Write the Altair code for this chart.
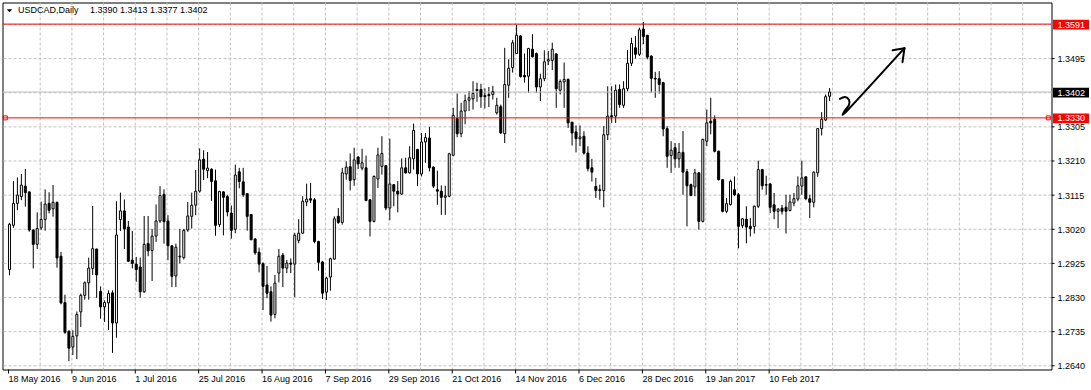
import altair as alt
import pandas as pd

# ---------------- data ----------------
opens = [1.2908,1.3031,1.3092,1.3111,1.3140,1.3124,1.3018,1.2978,1.3024,1.3047,
         1.3092,1.3077,1.3095,1.2945,1.2816,1.2736,1.2692,1.2723,1.2790,1.2836,
         1.2871,1.2911,1.2965,1.2847,1.2804,1.2815,1.2843,1.2759,1.3047,1.3071,
         1.3026,1.2934,1.2923,1.2915,1.2846,1.2980,1.2961,1.3001,1.3043,1.3117,
         1.3043,1.2974,1.2890,1.2943,1.2941,1.3018,1.3056,1.3087,1.3126,1.3215,
         1.3183,1.3187,1.3155,1.3033,1.3124,1.3111,1.3065,1.3020,1.3180,1.3152,
         1.3119,1.3061,1.2993,1.2956,1.2924,1.2865,1.2846,1.2783,1.2898,1.2948,
         1.2912,1.2926,1.2923,1.2989,1.3009,1.3096,1.3105,1.3102,1.2986,1.2929,
         1.2845,1.2887,1.2937,1.3056,1.3039,1.3174,1.3194,1.3158,1.3221,1.3190,
         1.3191,1.3102,1.3042,1.3160,1.3195,1.3197,1.3079,1.3144,1.3126,1.3118,
         1.3191,1.3177,1.3216,1.3242,1.3174,1.3263,1.3274,1.3193,1.3130,1.3126,
         1.3109,1.3112,1.3226,1.3328,1.3286,1.3349,1.3379,1.3383,1.3406,1.3409,
         1.3392,1.3395,1.3395,1.3344,1.3361,1.3286,1.3421,1.3470,1.3509,1.3558,
         1.3448,1.3446,1.3521,1.3509,1.3416,1.3439,1.3488,1.3490,1.3508,1.3407,
         1.3430,1.3437,1.3318,1.3291,1.3272,1.3279,1.3232,1.3191,1.3139,1.3130,
         1.3128,1.3283,1.3336,1.3335,1.3409,1.3365,1.3411,1.3482,1.3525,1.3507,
         1.3577,1.3560,1.3502,1.3440,1.3439,1.3428,1.3300,1.3225,1.3247,1.3216,
         1.3234,1.3180,1.3144,1.3138,1.3177,1.3042,1.3265,1.3321,1.3326,1.3237,
         1.3158,1.3070,1.3089,1.3130,1.3116,1.3030,1.3048,1.3028,1.3028,1.3084,
         1.3186,1.3144,1.3146,1.3088,1.3070,1.3079,1.3081,1.3072,1.3093,1.3104,
         1.3140,1.3166,1.3105,1.3095,1.3177,1.3300,1.3324,1.3390]
highs = [1.3038,1.3154,1.3164,1.3174,1.3188,1.3125,1.3019,1.3067,1.3097,1.3131,
         1.3123,1.3143,1.3097,1.2957,1.2838,1.2739,1.2739,1.2791,1.2841,1.2875,
         1.2941,1.3085,1.2966,1.2861,1.2822,1.2850,1.2850,1.3098,1.3122,1.3103,
         1.3043,1.3015,1.2943,1.2941,1.3057,1.3057,1.3021,1.3089,1.3140,1.3131,
         1.3059,1.2975,1.2980,1.3021,1.3021,1.3096,1.3122,1.3185,1.3245,1.3240,
         1.3235,1.3190,1.3186,1.3127,1.3126,1.3116,1.3086,1.3200,1.3191,1.3191,
         1.3121,1.3061,1.2995,1.2969,1.2928,1.2918,1.2861,1.2893,1.2965,1.2954,
         1.2935,1.2939,1.3010,1.3048,1.3112,1.3147,1.3149,1.3107,1.2988,1.2932,
         1.2888,1.2941,1.3056,1.3079,1.3191,1.3209,1.3231,1.3247,1.3223,1.3244,
         1.3225,1.3104,1.3170,1.3247,1.3279,1.3199,1.3272,1.3146,1.3154,1.3217,
         1.3219,1.3251,1.3314,1.3244,1.3288,1.3288,1.3305,1.3195,1.3183,1.3142,
         1.3141,1.3233,1.3358,1.3398,1.3372,1.3395,1.3405,1.3432,1.3428,1.3425,
         1.3412,1.3416,1.3419,1.3386,1.3367,1.3525,1.3493,1.3547,1.3589,1.3560,
         1.3509,1.3525,1.3563,1.3512,1.3453,1.3518,1.3516,1.3539,1.3509,1.3437,
         1.3484,1.3440,1.3318,1.3309,1.3309,1.3293,1.3251,1.3216,1.3163,1.3144,
         1.3307,1.3418,1.3418,1.3423,1.3423,1.3432,1.3519,1.3553,1.3558,1.3581,
         1.3597,1.3560,1.3504,1.3458,1.3460,1.3430,1.3307,1.3265,1.3260,1.3260,
         1.3293,1.3188,1.3147,1.3188,1.3179,1.3272,1.3353,1.3386,1.3337,1.3239,
         1.3160,1.3107,1.3158,1.3167,1.3121,1.3051,1.3084,1.3051,1.3086,1.3211,
         1.3188,1.3169,1.3149,1.3121,1.3079,1.3088,1.3116,1.3116,1.3121,1.3167,
         1.3211,1.3167,1.3116,1.3181,1.3302,1.3346,1.3395,1.3413]
lows = [1.2892,1.3024,1.3073,1.3101,1.3083,1.3013,1.2911,1.2965,1.3018,1.3016,
        1.3064,1.3055,1.2913,1.2811,1.2729,1.2653,1.2670,1.2659,1.2748,1.2824,
        1.2824,1.2893,1.2829,1.2771,1.2762,1.2740,1.2676,1.2718,1.3015,1.2965,
        1.2929,1.2911,1.2874,1.2830,1.2843,1.2945,1.2876,1.2985,1.3038,1.2980,
        1.2934,1.2859,1.2859,1.2925,1.2936,1.3013,1.3022,1.3059,1.3122,1.3157,
        1.3162,1.3099,1.3002,1.3026,1.3003,1.3056,1.2994,1.3009,1.3134,1.3110,
        1.3016,1.2989,1.2949,1.2900,1.2795,1.2828,1.2763,1.2772,1.2872,1.2859,
        1.2898,1.2898,1.2831,1.2981,1.3008,1.3084,1.3093,1.2981,1.2905,1.2826,
        1.2823,1.2849,1.2935,1.3035,1.3033,1.3158,1.3128,1.3141,1.3188,1.3184,
        1.3098,1.3000,1.3039,1.3135,1.3172,1.3073,1.3045,1.3084,1.3067,1.3116,
        1.3175,1.3175,1.3186,1.3140,1.3167,1.3205,1.3181,1.3135,1.3088,1.3060,
        1.3060,1.3109,1.3223,1.3276,1.3276,1.3312,1.3349,1.3353,1.3375,1.3358,
        1.3356,1.3360,1.3381,1.3339,1.3286,1.3260,1.3386,1.3456,1.3508,1.3442,
        1.3428,1.3400,1.3498,1.3400,1.3377,1.3432,1.3477,1.3463,1.3358,1.3395,
        1.3358,1.3302,1.3253,1.3234,1.3251,1.3228,1.3181,1.3153,1.3107,1.3102,
        1.3081,1.3268,1.3316,1.3316,1.3358,1.3358,1.3404,1.3474,1.3495,1.3502,
        1.3535,1.3493,1.3400,1.3386,1.3398,1.3279,1.3191,1.3177,1.3191,1.3191,
        1.3116,1.3028,1.3112,1.3112,1.3019,1.3039,1.3251,1.3284,1.3234,1.3156,
        1.3067,1.3065,1.3086,1.3112,1.2967,1.3023,1.2981,1.3000,1.3008,1.3079,
        1.3130,1.3116,1.3065,1.3048,1.3023,1.3061,1.3008,1.3070,1.3084,1.3098,
        1.3116,1.3101,1.3051,1.3081,1.3166,1.3281,1.3321,1.3377]
closes = [1.3034,1.3092,1.3115,1.3143,1.3122,1.3018,1.2978,1.3022,1.3047,1.3090,
          1.3073,1.3095,1.2940,1.2815,1.2733,1.2689,1.2722,1.2783,1.2836,1.2871,
          1.2912,1.2966,1.2893,1.2804,1.2816,1.2841,1.2759,1.3004,1.3071,1.3021,
          1.2931,1.2925,1.2908,1.2846,1.2978,1.2960,1.3001,1.3043,1.3114,1.3041,
          1.2974,1.2889,1.2970,1.2945,1.3017,1.3057,1.3087,1.3126,1.3213,1.3187,
          1.3190,1.3153,1.3031,1.3125,1.3109,1.3068,1.3017,1.3171,1.3153,1.3116,
          1.3056,1.2991,1.2954,1.2923,1.2861,1.2842,1.2781,1.2870,1.2945,1.2912,
          1.2926,1.2923,1.3003,1.3009,1.3098,1.3104,1.3101,1.2986,1.2928,1.2842,
          1.2884,1.2938,1.3049,1.3039,1.3177,1.3193,1.3156,1.3213,1.3202,1.3205,
          1.3100,1.3042,1.3167,1.3227,1.3231,1.3079,1.3146,1.3126,1.3118,1.3191,
          1.3177,1.3219,1.3295,1.3174,1.3263,1.3275,1.3191,1.3140,1.3126,1.3109,
          1.3113,1.3230,1.3337,1.3286,1.3349,1.3378,1.3386,1.3398,1.3409,1.3389,
          1.3389,1.3392,1.3403,1.3365,1.3288,1.3423,1.3468,1.3539,1.3560,1.3445,
          1.3444,1.3523,1.3500,1.3416,1.3439,1.3486,1.3492,1.3521,1.3411,1.3431,
          1.3437,1.3316,1.3288,1.3272,1.3277,1.3232,1.3189,1.3179,1.3128,1.3128,
          1.3283,1.3335,1.3333,1.3407,1.3367,1.3411,1.3482,1.3537,1.3507,1.3575,
          1.3556,1.3499,1.3440,1.3438,1.3423,1.3299,1.3223,1.3240,1.3216,1.3234,
          1.3179,1.3141,1.3114,1.3177,1.3042,1.3270,1.3316,1.3316,1.3237,1.3158,
          1.3070,1.3091,1.3153,1.3116,1.3028,1.3049,1.3026,1.3022,1.3084,1.3186,
          1.3141,1.3143,1.3081,1.3070,1.3076,1.3070,1.3070,1.3096,1.3105,1.3141,
          1.3163,1.3105,1.3095,1.3179,1.3300,1.3326,1.3389,1.3402]

date_labels = ["18 May 2016", "9 Jun 2016", "1 Jul 2016", "25 Jul 2016",
               "16 Aug 2016", "7 Sep 2016", "29 Sep 2016", "21 Oct 2016",
               "14 Nov 2016", "6 Dec 2016", "28 Dec 2016", "19 Jan 2017",
               "10 Feb 2017"]
price_grid = [1.2640, 1.2735, 1.2830, 1.2925, 1.3020, 1.3115, 1.3210,
              1.3305, 1.3400, 1.3495, 1.3590]
price_labels = [1.2640, 1.2735, 1.2830, 1.2925, 1.3020, 1.3115, 1.3210,
                1.3305, 1.3495]
red_levels = [1.3591, 1.3330]
bid_level = [1.3402]
symbol = "USDCAD,Daily"
ohlc_text = "1.3390 1.3413 1.3377 1.3402"

# hand-drawn arrow (bar index, price)
arrow_x = [209.6, 210.9, 211.9, 211.9, 210.9, 211.6, 225.9]
arrow_y = [1.3383, 1.3388, 1.3380, 1.3366, 1.3351, 1.3352, 1.3524]
head_x = [225.9, 225.9]
head_y = [1.3524, 1.3524]
head_x2 = [222.9, 225.4]
head_y2 = [1.3518, 1.3485]

# ---------------- chart ----------------
FONT = "Liberation Sans"
FS = 9
GRID = "#c0c0c0"
W, H = 1049, 367

xs = alt.Scale(domain=[-0.5, 261.75], nice=False, zero=False)
ys = alt.Scale(domain=[1.26297, 1.36511], nice=False, zero=False)

df = pd.DataFrame({"i": list(range(len(opens))), "o": opens, "h": highs,
                   "l": lows, "c": closes})

# vertical grid every 8 bars, labelled ticks every 16 bars
gx_df = pd.DataFrame({"g": [8 * k - 0.25 for k in range(1, 33)]})
lab_df = pd.DataFrame({"g": [16 * k - 0.25 for k in range(len(date_labels))],
                       "t": date_labels})
gy_df = pd.DataFrame({"p": price_grid})
py_df = pd.DataFrame({"p": price_labels})

vgrid = alt.Chart(gx_df).mark_rule(color=GRID, strokeWidth=1, strokeDash=[3, 2]).encode(
    x=alt.X("g:Q", scale=xs, axis=None))
hgrid = alt.Chart(gy_df).mark_rule(color=GRID, strokeWidth=1, strokeDash=[3, 2]).encode(
    y=alt.Y("p:Q", scale=ys, axis=None))

xticks = alt.Chart(lab_df).mark_rule(color="black", strokeWidth=1).encode(
    x=alt.X("g:Q", scale=xs, axis=None), y=alt.value(H), y2=alt.value(H + 4))
xlabels = alt.Chart(lab_df).mark_text(
    align="left", baseline="top", font=FONT, fontSize=FS, color="black"
).encode(x=alt.X("g:Q", scale=xs, axis=None), y=alt.value(H + 5), text="t:N")

yticks = alt.Chart(py_df).mark_rule(color="black", strokeWidth=1).encode(
    y=alt.Y("p:Q", scale=ys, axis=None), x=alt.value(W), x2=alt.value(W + 3))
ylabels = alt.Chart(py_df).mark_text(
    align="left", baseline="middle", font=FONT, fontSize=FS, color="black", dy=0.5
).encode(y=alt.Y("p:Q", scale=ys, axis=None), x=alt.value(W + 6),
         text=alt.Text("p:Q", format=".4f"))

wicks = alt.Chart(df).mark_rule(color="black", strokeWidth=1).encode(
    x=alt.X("i:Q", scale=xs, axis=None),
    y=alt.Y("l:Q", scale=ys, axis=None),
    y2="h:Q")

bodies = alt.Chart(df).transform_calculate(
    fc="datum.c >= datum.o ? 'white' : 'black'"
).mark_bar(width=2, stroke="black", strokeWidth=1).encode(
    x=alt.X("i:Q", scale=xs, axis=None),
    y=alt.Y("o:Q", scale=ys, axis=None),
    y2="c:Q",
    fill=alt.Fill("fc:N", scale=None))

bid_df = pd.DataFrame({"v": bid_level})
bid = alt.Chart(bid_df).mark_rule(color=GRID, strokeWidth=1).encode(
    y=alt.Y("v:Q", scale=ys, axis=None))

red_df = pd.DataFrame({"v": red_levels})
red_lines = alt.Chart(red_df).mark_rule(color="#ff0000", strokeWidth=1).encode(
    y=alt.Y("v:Q", scale=ys, axis=None))

sq_df = pd.DataFrame({"v": [red_levels[1]]})
sq_left = alt.Chart(sq_df).mark_point(
    shape="square", filled=False, color="#ff0000", size=16, strokeWidth=1, opacity=1
).encode(x=alt.value(2.8), y=alt.Y("v:Q", scale=ys, axis=None))
sq_right = alt.Chart(sq_df).mark_point(
    shape="square", filled=False, color="#ff0000", size=16, strokeWidth=1, opacity=1
).encode(x=alt.value(1045.8), y=alt.Y("v:Q", scale=ys, axis=None))


def box(values, colour):
    d = pd.DataFrame({"v": values})
    base = alt.Chart(d).transform_calculate(
        top="datum.v + 0.0012", bot="datum.v - 0.0015")
    r = base.mark_rect(color=colour).encode(
        x=alt.value(W + 1.5), x2=alt.value(W + 37.5),
        y=alt.Y("top:Q", scale=ys, axis=None), y2="bot:Q")
    t = base.mark_text(color="white", align="left", baseline="middle",
                       font=FONT, fontSize=FS, dy=0.5).encode(
        x=alt.value(W + 6), y=alt.Y("v:Q", scale=ys, axis=None),
        text=alt.Text("v:Q", format=".4f"))
    return r + t


red_boxes = box(red_levels, "#ff0000")
black_box = box(bid_level, "black")

hdr_df = pd.DataFrame({"s": [symbol], "n": [ohlc_text]})
tri = alt.Chart(hdr_df).mark_point(
    shape="M-1,-0.55L1,-0.55L0,0.55Z", filled=True, color="black", size=30, opacity=1
).encode(x=alt.value(7), y=alt.value(8.3))
hdr1 = alt.Chart(hdr_df).mark_text(
    align="left", baseline="alphabetic", font=FONT, fontSize=FS, color="black"
).encode(x=alt.value(15.5), y=alt.value(10), text="s:N")
hdr2 = alt.Chart(hdr_df).mark_text(
    align="left", baseline="alphabetic", font=FONT, fontSize=FS, color="black"
).encode(x=alt.value(87.5), y=alt.value(10), text="n:N")

arr_df = pd.DataFrame({"ax": arrow_x, "ay": arrow_y,
                       "k": list(range(len(arrow_x)))})
arrow = alt.Chart(arr_df).mark_line(
    color="black", strokeWidth=2, interpolate="cardinal", strokeCap="round",
    strokeJoin="round"
).encode(x=alt.X("ax:Q", scale=xs, axis=None),
         y=alt.Y("ay:Q", scale=ys, axis=None), order="k:Q")
head_df = pd.DataFrame({"x1": head_x, "y1": head_y, "x2": head_x2, "y2": head_y2})
head = alt.Chart(head_df).mark_rule(color="black", strokeWidth=2, strokeCap="round").encode(
    x=alt.X("x1:Q", scale=xs, axis=None), x2="x2:Q",
    y=alt.Y("y1:Q", scale=ys, axis=None), y2="y2:Q")

chart = alt.layer(
    vgrid, hgrid, xticks, xlabels, yticks, ylabels,
    wicks, bid, bodies, red_lines, sq_left, sq_right,
    red_boxes, black_box, tri, hdr1, hdr2, arrow, head
).properties(
    width=W, height=H,
    autosize=alt.AutoSizeParams(type="none"),
    padding={"left": 2.5, "top": 2.5, "right": 39.5, "bottom": 20.5},
    background="white"
).configure_view(stroke="black", strokeWidth=1)

chart.save("out.html", embed_options={"renderer": "svg", "actions": False})
